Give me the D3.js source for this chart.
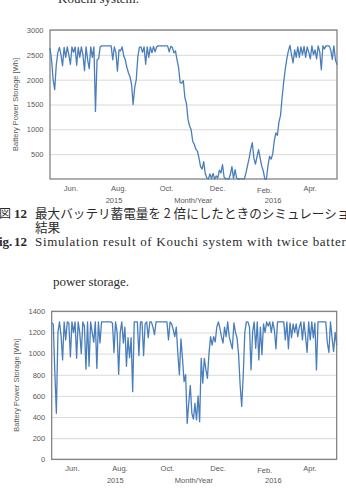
<!DOCTYPE html>
<html>
<head>
<meta charset="utf-8">
<script src="https://cdn.jsdelivr.net/npm/d3@7"></script>
<style>
  body { margin: 0; background: #fff; }
  svg { display: block; }
</style>
</head>
<body>
<div id="fig"></div>
<script>
// daily simulation, one reading every 2 days from 6 May 2015
const startDate = new Date(2015, 4, 6);
const stepDays = 2;

// Fig. 12 : twice battery storage [Wh]
const storageTwice = [
  2640, 2400, 2000, 1800, 2300,
  2550, 2650, 2500, 2280, 2650, 2450, 2660, 2500, 2310, 2660, 2550, 2660, 2290, 2650, 2450, 2660, 2500, 2180, 2660, 2400, 2220, 2660, 2450, 2660,
  1360, 2400, 2420, 2660, 2680, 2680, 2680, 2680, 2680, 2680,
  2680, 2400, 2660, 2550, 2170, 2600, 2580, 2660, 2480, 2400, 2250,
  2140, 2060, 1906, 1500, 1840, 2000, 2460, 2650, 2660, 2550,
  2660, 2310, 2660, 2450, 2660, 2540, 2670, 2560, 2660, 2680,
  2680, 2680, 2680, 2680, 2680, 2680, 2560, 2670, 2650, 2540,
  2580, 2400, 2240, 1940, 1930, 1980, 1640, 1520, 1200, 1067,
  990, 760, 700, 600, 560, 420, 250, 200, 350, 110,
  20, 0, 100, 10, 110, 0, 60, 20, 180, 120,
  290, 40, 0, 10, 0, 90, 250, 10, 190, 20,
  0, 0, 10, 0, 5, 130, 280, 420, 600, 730,
  420, 300, 450, 590, 420, 260, 160, 0, 0, 270,
  456, 400, 500, 770, 930, 880, 1150, 1280, 1640, 1950,
  2210, 2420, 2580, 2690, 2500, 2340, 2600, 2450, 2660, 2450,
  2660, 2500, 2670, 2450, 2660, 2550, 2420, 2680, 2500, 2600,
  2420, 2680, 2560, 2200, 2680, 2620, 2680, 2680, 2680, 2600,
  2410, 2680, 2400, 2300
];

// original battery storage [Wh]
const storageBase = [
  1290, 1280, 830, 435, 1200, 1300, 1170, 940, 1300, 1130,
  1300, 1290, 970, 1300, 1200, 1300, 955, 1300, 1200, 1000,
  1300, 1260, 851, 1300, 880, 1300, 1200, 1108, 1300, 860,
  1300, 1100, 1300, 1300, 1300, 1300, 1300, 1300, 1300, 1290,
  1010, 1300, 1200, 804, 1200, 1300, 1100, 1250, 880, 1150,
  960, 1150, 640, 1300, 1300, 1300, 980, 1300, 1300, 980,
  1280, 1300, 1150, 1300, 1300, 1250, 1180, 1300, 1300, 1300,
  1300, 1300, 1300, 1300, 1300, 1130, 1300, 1280, 1230, 1160,
  1250, 1000, 800, 1140, 950, 734, 800, 340, 530, 700,
  435, 380, 530, 372, 600, 356, 955, 720, 955, 850,
  766, 1000, 1160, 1080, 1160, 1110, 1250, 1300, 1240, 1160,
  1100, 1250, 1160, 1300, 1160, 1100, 1045, 1290, 1200, 1150,
  990, 700, 500, 800, 1200, 1300, 1300, 1250, 845, 1200,
  1300, 1050, 1300, 940, 1250, 990, 1280, 1200, 1300, 1260,
  1300, 1200, 1300, 1220, 1045, 1300, 1300, 1300, 1300, 1300,
  1130, 1300, 1045, 1290, 1150, 1280, 1200, 1280, 1160, 1250,
  1300, 1130, 1300, 1160, 1012, 1300, 1130, 1300, 1150, 1290,
  845, 1300, 1300, 1300, 1300, 1300, 1300, 1100, 1012, 1300,
  1150, 1020, 1200, 1080
];

const ticksTwice = [500, 1000, 1500, 2000, 2500, 3000];
const ticksBase = [0, 200, 400, 600, 800, 1000, 1200, 1400];

const monthLabels = ["Jun.", "Aug.", "Oct.", "Dec.", "Feb.", "Apr."];
const monthTickDates = ["2015-06-01", "2015-08-01", "2015-10-01", "2015-12-05", "2016-02-03", "2016-04-01"];
const yearLabels = ["2015", "Month/Year", "2016"];
const yearLabelDates = ["2015-07-26", "2015-11-04", "2016-02-14"];

const yTitle = "Battery Power Storage  [Wh]";

const parseDay = d3.timeParse("%Y-%m-%d");
const labelFont = "'Liberation Sans', Arial, sans-serif";
const axisGray = "#595959";
const lineBlue = "#4a7ebb";

const svg = d3.select("#fig").append("svg")
  .attr("width", 346)
  .attr("height", 488);

// text around the figures
const serif = "'Liberation Serif', 'Times New Roman', serif";
const jp = "'Noto Sans CJK JP', sans-serif";
const ink = "#2b2b2b";

svg.append("text").attr("x", 58).attr("y", 3)
  .attr("font-family", serif).attr("font-size", 13).attr("fill", ink)
  .text("Kouchi system.");

svg.append("text").attr("x", -1).attr("y", 218)
  .attr("font-family", jp).attr("font-size", 12).attr("fill", ink).text("図");
svg.append("text").attr("x", 14).attr("y", 218)
  .attr("font-family", serif).attr("font-weight", "bold").attr("font-size", 13).attr("fill", ink).text("12");
svg.append("text").attr("x", 35).attr("y", 218)
  .attr("font-family", jp).attr("font-size", 12.6).attr("fill", ink)
  .text("最大バッテリ蓄電量を 2 倍にしたときのシミュレーション");
svg.append("text").attr("x", 35).attr("y", 231.5)
  .attr("font-family", jp).attr("font-size", 12.6).attr("fill", ink).text("結果");

svg.append("text").attr("x", -9).attr("y", 245.5)
  .attr("font-family", serif).attr("font-weight", "bold").attr("font-size", 13).attr("fill", ink).text("Fig.");
svg.append("text").attr("x", 14).attr("y", 245.5)
  .attr("font-family", serif).attr("font-weight", "bold").attr("font-size", 13).attr("fill", ink).text("12");
svg.append("text").attr("x", 35).attr("y", 245.5)
  .attr("font-family", serif).attr("font-size", 13).attr("fill", ink)
  .attr("textLength", 318).attr("lengthAdjust", "spacing")
  .text("Simulation result of Kouchi system with twice battery");
svg.append("text").attr("x", 53).attr("y", 286)
  .attr("font-family", serif).attr("font-size", 13).attr("fill", ink)
  .attr("textLength", 76).attr("lengthAdjust", "spacing")
  .text("power storage.");

const panels = [
  {values: storageTwice, yMax: 3000, yTicks: ticksTwice, left: 50, right: 337, top: 30, bottom: 179},
  {values: storageBase, yMax: 1400, yTicks: ticksBase, left: 51.7, right: 336.7, top: 311.3, bottom: 459.3}
];

const drawPanel = (p) => {
  const n = p.values.length;
  const x = d3.scaleTime()
    .domain([startDate, d3.timeDay.offset(startDate, (n - 1) * stepDays)])
    .range([p.left, p.right]);
  const y = d3.scaleLinear()
    .domain([0, p.yMax])
    .range([p.bottom, p.top]);

  // grid lines
  svg.append("g")
    .attr("transform", "translate(" + p.left + ",0)")
    .call(d3.axisLeft(y).tickValues(p.yTicks).tickSize(-(p.right - p.left)).tickFormat(""))
    .call(g => g.select(".domain").remove())
    .selectAll("line")
    .attr("stroke", "#d9d9d9");

  // y tick labels
  svg.append("g")
    .attr("transform", "translate(" + (p.left - 6.5) + ",0)")
    .call(d3.axisLeft(y).tickValues(p.yTicks).tickSize(0).tickPadding(0).tickFormat(d3.format("d")))
    .call(g => g.select(".domain").remove())
    .selectAll("text")
    .attr("fill", axisGray)
    .style("font-family", labelFont)
    .style("font-size", "7.5px");

  // plot frame
  svg.append("rect")
    .attr("x", p.left).attr("y", p.top)
    .attr("width", p.right - p.left).attr("height", p.bottom - p.top)
    .attr("fill", "none")
    .attr("stroke", "#7a7a7a")
    .attr("stroke-width", 1.2);

  // series
  const line = d3.line()
    .x((d, i) => x(d3.timeDay.offset(startDate, i * stepDays)))
    .y(d => y(d));

  svg.append("path")
    .datum(p.values)
    .attr("fill", "none")
    .attr("stroke", lineBlue)
    .attr("stroke-width", 1.3)
    .attr("stroke-linejoin", "round")
    .attr("d", line);

  // month labels
  svg.append("g")
    .attr("transform", "translate(0," + (p.bottom + 6.2) + ")")
    .call(d3.axisBottom(x).tickValues(monthTickDates.map(parseDay)).tickSize(0).tickPadding(0)
      .tickFormat((d, i) => monthLabels[i]))
    .call(g => g.select(".domain").remove())
    .selectAll("text")
    .attr("fill", axisGray)
    .attr("dy", (d, i) => monthLabels[i] === "Feb." ? "1.0em" : "0.71em")
    .style("font-family", labelFont)
    .style("font-size", "7.5px");

  // year / axis title row
  svg.append("g")
    .attr("transform", "translate(0," + (p.bottom + 18.4) + ")")
    .call(d3.axisBottom(x).tickValues(yearLabelDates.map(parseDay)).tickSize(0).tickPadding(0)
      .tickFormat((d, i) => yearLabels[i]))
    .call(g => g.select(".domain").remove())
    .selectAll("text")
    .attr("fill", axisGray)
    .style("font-family", labelFont)
    .style("font-size", "7.5px");

  // y axis title
  svg.append("text")
    .attr("transform", "translate(" + (p.left - 35) + "," + ((p.top + p.bottom) / 2) + ") rotate(-90)")
    .attr("text-anchor", "middle")
    .attr("dy", "0.35em")
    .attr("fill", axisGray)
    .style("font-family", labelFont)
    .style("font-size", "7.5px")
    .text(yTitle);
};

panels.forEach(drawPanel);
</script>
</body>
</html>
